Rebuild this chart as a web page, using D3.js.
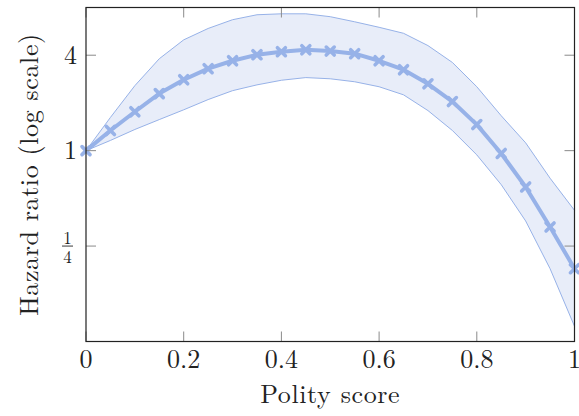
<!DOCTYPE html>
<html>
<head>
<meta charset="utf-8">
<script src="https://cdn.jsdelivr.net/npm/d3@7"></script>
<style>
  html, body { margin: 0; padding: 0; background: #fff; }
  svg { display: block; }
  text { font-family: "Latin Modern Roman", "Liberation Serif", serif; fill: #222; }
</style>
</head>
<body>
<svg id="chart" width="579" height="416"></svg>
<script>
const polity = [0, 0.05, 0.1, 0.15, 0.2, 0.25, 0.3, 0.35, 0.4, 0.45, 0.5, 0.55, 0.6, 0.65, 0.7, 0.75, 0.8, 0.85, 0.9, 0.95, 1];
const hazard = [1, 1.34, 1.76, 2.29, 2.80, 3.29, 3.69, 4.03, 4.21, 4.33, 4.25, 4.09, 3.69, 3.24, 2.64, 2.04, 1.46, 0.96, 0.59, 0.33, 0.18];
const upper  = [1, 1.62, 2.57, 3.8, 5.0, 5.9, 6.7, 7.2, 7.3, 7.3, 7.0, 6.5, 6.0, 5.5, 4.6, 3.6, 2.53, 1.66, 1.12, 0.67, 0.42];
const lower  = [1, 1.16, 1.36, 1.57, 1.81, 2.1, 2.39, 2.6, 2.78, 2.89, 2.84, 2.72, 2.53, 2.25, 1.79, 1.34, 0.94, 0.61, 0.36, 0.18, 0.078];
const xTicks = [0, 0.2, 0.4, 0.6, 0.8, 1];
const xTickLabels = ["0", "0.2", "0.4", "0.6", "0.8", "1"];
const yTicks = [0.25, 1, 4];
const yTickLabels = ["1/4", "1", "4"];
const xLabel = "Polity score";
const yLabel = "Hazard ratio (log scale)";

(function () {
const svg = d3.select("#chart");
const mLeft = 86, mRight = 574.5, mTop = 7.5, mBottom = 341.5;
const x = d3.scaleLinear().domain([0, 1]).range([mLeft, mRight]);
const y = d3.scaleLog().base(2).domain([1/16, 8]).range([mBottom, mTop]);

const lineColor = "#97b2e8";
const fillColor = "#e8edf9";

const data = polity.map((p, i) => ({ p, h: hazard[i], u: upper[i], l: lower[i] }));

// band
svg.append("path")
  .datum(data)
  .attr("d", d3.area().x(d => x(d.p)).y0(d => y(d.l)).y1(d => y(d.u)))
  .attr("fill", fillColor).attr("stroke", "none");
svg.append("path").datum(data)
  .attr("d", d3.line().x(d => x(d.p)).y(d => y(d.u)))
  .attr("fill", "none").attr("stroke", lineColor).attr("stroke-width", 1);
svg.append("path").datum(data)
  .attr("d", d3.line().x(d => x(d.p)).y(d => y(d.l)))
  .attr("fill", "none").attr("stroke", lineColor).attr("stroke-width", 1);

// main line
svg.append("path").datum(data)
  .attr("d", d3.line().x(d => x(d.p)).y(d => y(d.h)))
  .attr("fill", "none").attr("stroke", lineColor).attr("stroke-width", 4)
  .attr("stroke-linejoin", "round");

// markers
const s = 4;
const mk = svg.append("g").selectAll("g").data(data).join("g")
  .attr("transform", d => `translate(${x(d.p)},${y(d.h)})`);
mk.append("path")
  .attr("d", `M${-s},${-s}L${s},${s}M${-s},${s}L${s},${-s}`)
  .attr("stroke", lineColor).attr("stroke-width", 3.6).attr("stroke-linecap", "round");

// ticks (inside, mirrored)
const tickColor = "#8a8a8a", tl = 10;
const tg = svg.append("g").attr("stroke", tickColor).attr("stroke-width", 1);
xTicks.forEach(t => {
  tg.append("line").attr("x1", x(t)).attr("x2", x(t)).attr("y1", mBottom).attr("y2", mBottom - tl);
  tg.append("line").attr("x1", x(t)).attr("x2", x(t)).attr("y1", mTop).attr("y2", mTop + tl);
});
yTicks.forEach(t => {
  tg.append("line").attr("y1", y(t)).attr("y2", y(t)).attr("x1", mLeft).attr("x2", mLeft + tl);
  tg.append("line").attr("y1", y(t)).attr("y2", y(t)).attr("x1", mRight).attr("x2", mRight - tl);
});

// frame
svg.append("rect").attr("x", mLeft).attr("y", mTop)
  .attr("width", mRight - mLeft).attr("height", mBottom - mTop)
  .attr("fill", "none").attr("stroke", "#222").attr("stroke-width", 1.2);

// x tick labels
svg.append("g").selectAll("text").data(xTicks).join("text")
  .attr("x", d => x(d)).attr("y", 368)
  .attr("text-anchor", "middle").attr("font-size", 26)
  .text((d, i) => xTickLabels[i]);

// y tick labels
yTicks.forEach((t, i) => {
  const lab = yTickLabels[i];
  if (lab.includes("/")) {
    const [n, dd] = lab.split("/");
    const cx = 67.5, cy = y(t);
    svg.append("text").attr("x", cx).attr("y", cy - 2.5).attr("text-anchor", "middle")
      .attr("font-size", 17).text(n);
    svg.append("line").attr("x1", cx - 5.5).attr("x2", cx + 5.5).attr("y1", cy).attr("y2", cy)
      .attr("stroke", "#222").attr("stroke-width", 0.9);
    svg.append("text").attr("x", cx).attr("y", cy + 16.5).attr("text-anchor", "middle")
      .attr("font-size", 17).text(dd);
  } else {
    svg.append("text").attr("x", 77).attr("y", y(t) + 8.5).attr("text-anchor", "end")
      .attr("font-size", 26).text(lab);
  }
});

// axis labels
svg.append("text").attr("x", (mLeft + mRight) / 2).attr("y", 403)
  .attr("text-anchor", "middle").attr("font-size", 26).attr("letter-spacing", 0.6).text(xLabel);
svg.append("text").attr("transform", `translate(38,${(mTop + mBottom) / 2}) rotate(-90)`)
  .attr("text-anchor", "middle").attr("font-size", 26).attr("letter-spacing", 0.6).text(yLabel);
})();
</script>
</body>
</html>
